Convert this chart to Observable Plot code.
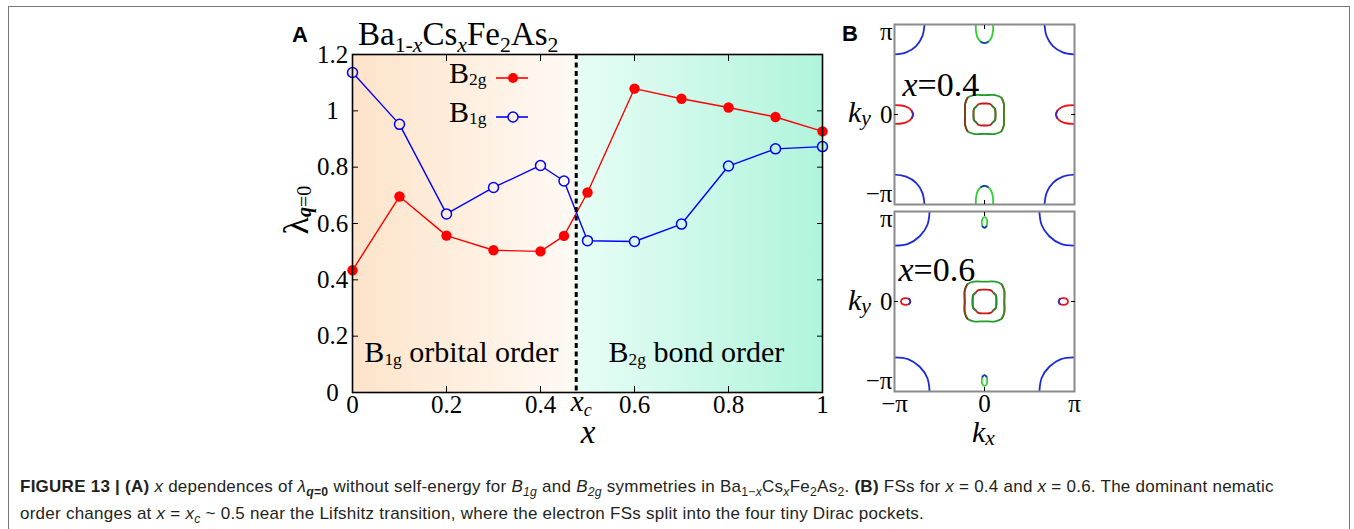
<!DOCTYPE html>
<html><head><meta charset="utf-8">
<script src="https://cdn.jsdelivr.net/npm/d3@7"></script>
<script src="https://cdn.jsdelivr.net/npm/@observablehq/plot@0.6"></script>
<style>
body{margin:0;background:#fff;}
#root{position:relative;width:1354px;height:529px;overflow:hidden;background:#fff;font-family:'Liberation Serif','Times New Roman',serif;color:#000;}
.abs{position:absolute;white-space:nowrap;line-height:1;}
.sub{font-size:0.62em;position:relative;top:0.3em;}
#border{position:absolute;left:8px;top:6px;width:1342px;height:600px;border:1.5px solid #777;box-sizing:border-box;}
#caption{position:absolute;left:20px;top:474px;font-family:'Liberation Sans',Arial,sans-serif;font-size:17px;letter-spacing:0.25px;line-height:26px;color:#231f20;white-space:nowrap;}
#caption .s{font-size:0.72em;position:relative;top:0.3em;}
</style>
</head><body>
<div id="root">
  <div id="border"></div>
  <div id="pa" class="abs" style="left:270px;top:0px"></div>
  <div id="pb1" class="abs" style="left:850px;top:0px"></div>
  <div id="pb2" class="abs" style="left:850px;top:207px"></div>

  <div class="abs" style="left:292px;top:24px;font:bold 22px 'Liberation Sans',Arial,sans-serif;line-height:1">A</div>
  <div class="abs" style="left:842px;top:23px;font:bold 22px 'Liberation Sans',Arial,sans-serif;line-height:1">B</div>
  <div class="abs" style="left:358px;top:18px;font-size:33px">Ba<span class="sub" style="font-size:0.66em">1-<i>x</i></span>Cs<span class="sub" style="font-size:0.66em"><i>x</i></span>Fe<span class="sub" style="font-size:0.66em">2</span>As<span class="sub" style="font-size:0.66em">2</span></div>

  <div class="abs" style="left:449px;top:58px;font-size:30px">B<span class="sub" style="font-size:0.58em;top:0.14em">2g</span></div>
  <div class="abs" style="left:449px;top:97px;font-size:30px">B<span class="sub" style="font-size:0.58em;top:0.14em">1g</span></div>
  <svg class="abs" style="left:494px;top:60px" width="40" height="70">
    <line x1="2" x2="34" y1="18" y2="18" stroke="#ff0000" stroke-width="1.6"></line>
    <circle cx="19" cy="18" r="5" fill="#ff0000"></circle>
    <line x1="2" x2="34" y1="57" y2="57" stroke="#0000ff" stroke-width="1.6"></line>
    <circle cx="19" cy="57" r="5" fill="#fdf0e3" stroke="#0000ff" stroke-width="1.5"></circle>
  </svg>

  <div class="abs" style="left:296px;top:210px;transform:translate(-50%,-50%) rotate(-90deg);font-size:36px">λ<span class="sub" style="font-size:20px;top:0.15em"><b><i>q</i></b>=0</span></div>
  <div class="abs" style="left:588px;top:416px;font-size:33px;font-style:italic;transform:translateX(-50%)">x</div>

  <div class="abs" style="left:848px;top:97px;font-size:30px"><i>k</i><span class="sub" style="font-size:0.72em;top:0.12em"><i>y</i></span></div>
  <div class="abs" style="left:848px;top:285px;font-size:30px"><i>k</i><span class="sub" style="font-size:0.72em;top:0.12em"><i>y</i></span></div>
  <div class="abs" style="left:972px;top:417px;font-size:30px"><i>k</i><span class="sub" style="font-size:0.72em;top:0.12em"><i>x</i></span></div>

  <div id="caption"><b>FIGURE 13 | (A)</b> <i>x</i> dependences of <i>λ</i><span class="s"><b><i>q</i>=0</b></span> without self-energy for <i>B</i><span class="s"><i>1g</i></span> and <i>B</i><span class="s"><i>2g</i></span> symmetries in Ba<span class="s">1−<i>x</i></span>Cs<span class="s"><i>x</i></span>Fe<span class="s">2</span>As<span class="s">2</span>. <b>(B)</b> FSs for <i>x</i> = 0.4 and <i>x</i> = 0.6. The dominant nematic<br>order changes at <i>x</i> = <i>x</i><span class="s"><i>c</i></span> ~ 0.5 near the Lifshitz transition, where the electron FSs split into the four tiny Dirac pockets.</div>
</div>

<script>
// ---------------- data (panel A) ----------------
const xs  = [0, 0.1, 0.2, 0.3, 0.4, 0.45, 0.5, 0.6, 0.7, 0.8, 0.9, 1];
const b2g = [0.434, 0.696, 0.557, 0.505, 0.501, 0.556, 0.710, 1.079, 1.043, 1.012, 0.978, 0.927];
const b1g = [1.136, 0.952, 0.634, 0.728, 0.806, 0.751, 0.539, 0.536, 0.598, 0.804, 0.865, 0.873];
const xc = 0.476;
const phaseNames = ["B_{1g} orbital order", "B_{2g} bond order"];
const phaseBounds = [0, xc, 1];
const xTicks = [0, 0.2, 0.4, 0.6, 0.8, 1];
const xTickLabels = ["0", "0.2", "0.4", "0.6", "0.8", "1"];
const yTicks = [0, 0.2, 0.4, 0.6, 0.8, 1, 1.2];
const yTickLabels = ["0", "0.2", "0.4", "0.6", "0.8", "1", "1.2"];

// ---------------- data (panel B): Fermi-surface outlines, units of π ----------------
const kTicks = [-1, 0, 1];
const kTickLabels = ["−π", "0", "π"];
const fsLabels = ["*x*=0.4", "*x*=0.6"];
// first-quadrant points (0°→90°) of the Γ pockets, offsets of the M-corner arcs,
// half-outlines of the X/Y pockets (edge → tip), quadrants of the small Dirac pockets
const fs04Outer  = [[0.215, 0], [0.215, 0.118], [0.187, 0.187], [0.118, 0.215], [0, 0.215]];
const fs04Inner  = [[0.122, 0], [0.117, 0.063], [0.09, 0.09], [0.063, 0.117], [0, 0.122]];
const fs04Corner = [[0.333, 0], [0.31, 0.13], [0.24, 0.24], [0.13, 0.31], [0, 0.333]];
const fs04Side   = [[0, 0.104], [0.08, 0.1], [0.15, 0.078], [0.192, 0.04], [0.205, 0]];
const fs04Cap    = [[0.096, 0], [0.094, 0.08], [0.075, 0.15], [0.038, 0.195], [0, 0.207]];
const fs06Outer  = [[0.22, 0], [0.22, 0.12], [0.191, 0.191], [0.12, 0.22], [0, 0.22]];
const fs06Inner  = [[0.132, 0], [0.127, 0.068], [0.098, 0.098], [0.068, 0.127], [0, 0.132]];
const fs06Corner = [[0.39, 0], [0.365, 0.15], [0.28, 0.275], [0.15, 0.36], [0, 0.38]];
const fs06SideCenter = 0.876;
const fs06SideQ  = [[0.052, 0], [0.038, 0.027], [0, 0.037]];
const fs06CapCenter = 0.878;
const fs06CapQ   = [[0.03, 0], [0.022, 0.043], [0, 0.059]];

// ---------------- helpers ----------------
const SERIF = "'Liberation Serif','Times New Roman',serif";
// markup: *italic*, _{subscript} (slightly lowered), __{subscript} (lowered more)
function parseRich(s) {
  const segs = []; let sub = 0, it = false, buf = "";
  const flush = () => { if (buf) { segs.push({t: buf, sub, it}); buf = ""; } };
  for (let i = 0; i < s.length; i++) {
    const c = s[i];
    if (c === "_" && s[i + 1] === "_" && s[i + 2] === "{") { flush(); sub = 2; i += 2; continue; }
    if (c === "_" && s[i + 1] === "{") { flush(); sub = 1; i++; continue; }
    if (c === "}" && sub) { flush(); sub = 0; continue; }
    if (c === "*") { flush(); it = !it; continue; }
    buf += c;
  }
  flush();
  return segs;
}
function richify(svg) {
  const ns = "http://www.w3.org/2000/svg";
  svg.querySelectorAll("text").forEach(el => {
    const s = el.textContent;
    if (!/[*]|_\{/.test(s)) return;
    const size = parseFloat(getComputedStyle(el).fontSize) || 25;
    el.textContent = "";
    let shift = 0;
    for (const g of parseRich(s)) {
      const t = document.createElementNS(ns, "tspan");
      t.textContent = g.t;
      if (g.it) t.setAttribute("font-style", "italic");
      if (g.sub) {
        const want = size * (g.sub === 2 ? 0.18 : 0.1);
        t.setAttribute("font-size", (size * (g.sub === 2 ? 0.62 : 0.58)).toFixed(1));
        t.setAttribute("dy", (want - shift).toFixed(1)); shift = want;
      } else if (shift) { t.setAttribute("dy", (-shift).toFixed(1)); shift = 0; }
      el.appendChild(t);
    }
  });
}

// ---------------- panel A ----------------
const rows = xs.map((x, i) => ({x, b2g: b2g[i], b1g: b1g[i]}));
const phases = phaseNames.map((name, i) => ({name, mid: (phaseBounds[i] + phaseBounds[i + 1]) / 2}));
const xFmt = d => xTickLabels[xTicks.indexOf(d)];
const yFmt = d => yTickLabels[yTicks.indexOf(d)];
const GRAD = "url(#gradA)";

const chartA = Plot.plot({
  width: 570, height: 445,
  marginLeft: 82, marginRight: 18, marginTop: 54, marginBottom: 53,
  x: {domain: [0, 1]},
  y: {domain: [0, 1.2]},
  style: {fontFamily: SERIF, fontSize: "25px", color: "#000", background: "transparent", overflow: "visible"},
  marks: [
    Plot.frame({fill: GRAD, stroke: null}),
    Plot.line(rows, {x: "x", y: "b2g", stroke: "#ff0000", strokeWidth: 1.4}),
    Plot.line(rows, {x: "x", y: "b1g", stroke: "#0000ff", strokeWidth: 1.4}),
    Plot.ruleX([xc], {stroke: "#000", strokeWidth: 3, strokeDasharray: "5,3.5"}),
    Plot.dot(rows, {x: "x", y: "b2g", r: 5.2, fill: "#ff0000", stroke: "none"}),
    Plot.dot(rows, {x: "x", y: "b1g", r: 5, fill: GRAD, stroke: "#0000ff", strokeWidth: 1.5}),
    Plot.frame({stroke: "#000", strokeWidth: 1.6}),
    Plot.axisX({ticks: xTicks, tickFormat: xFmt, tickSize: 0, tickPadding: 3, label: null}),
    Plot.axisY({ticks: yTicks, tickFormat: yFmt, tickSize: 0, tickPadding: 20, textAnchor: "middle", label: null}),
    Plot.axisY({ticks: yTicks, tickFormat: () => "", tickSize: 6, dx: 6, label: null}),
    Plot.axisY({anchor: "right", ticks: yTicks, tickFormat: () => "", tickSize: 6, dx: -6, label: null}),
    Plot.axisX({anchor: "top", ticks: xTicks, tickFormat: () => "", tickSize: 6, dy: 6, label: null}),
    Plot.axisX({anchor: "bottom", ticks: xTicks, tickFormat: () => "", tickSize: 6, dy: -6, label: null}),
    Plot.text([xc], {x: d => d, text: () => "*x*__{*c*}", frameAnchor: "bottom", lineAnchor: "top", dy: -2, dx: 5, fontSize: 29}),
    Plot.text(phases, {x: "mid", text: "name", frameAnchor: "bottom", lineAnchor: "middle", dy: -40, dx: -3, fontSize: 30})
  ]
});
document.getElementById("pa").appendChild(chartA);
{
  const sx = chartA.scale("x");
  const p0 = sx.apply(0), p1 = sx.apply(1);
  const ns = "http://www.w3.org/2000/svg";
  const defs = document.createElementNS(ns, "defs");
  defs.innerHTML = `<linearGradient id="gradA" gradientUnits="userSpaceOnUse" x1="${p0}" x2="${p1}" y1="0" y2="0">
    <stop offset="0" stop-color="#fde3c9"/>
    <stop offset="${xc}" stop-color="#fffaf5"/>
    <stop offset="${xc}" stop-color="#e7fdf5"/>
    <stop offset="1" stop-color="#b0f4dc"/>
  </linearGradient>`;
  chartA.insertBefore(defs, chartA.firstChild);
  richify(chartA);
}

// ---------------- panel B ----------------
const COL = {corner: "#1d2bd6", side: "#e8161c", sideTip: "#4b22b4", cap: "#2fd12f", capTip: "#2233c8",
             outer: "#249a2c", outerL: "#8a3412", outerR: "#4f7c20", inner: "#c2191a", innerLR: "#1f8f29"};

function loop(q, cx = 0, cy = 0) {
  const n = q.length, pts = [];
  for (let i = 0; i < n; i++) pts.push([q[i][0], q[i][1]]);
  for (let i = n - 2; i >= 0; i--) pts.push([-q[i][0], q[i][1]]);
  for (let i = 1; i < n; i++) pts.push([-q[i][0], -q[i][1]]);
  for (let i = n - 2; i >= 1; i--) pts.push([q[i][0], -q[i][1]]);
  return pts.map(([x, y]) => [cx + x, cy + y]);
}
function seg(pts, start, count) {
  const out = [];
  for (let i = 0; i < count; i++) out.push(pts[(start + i) % pts.length]);
  return out;
}
function buildShapes(fs) {
  const S = [];
  const outer = loop(fs.outer), inner = loop(fs.inner);
  S.push({pts: outer, closed: true, color: COL.outer});
  S.push({pts: seg(outer, 6, 5), color: COL.outerL});
  S.push({pts: seg(outer, 14, 5), color: COL.outerR});
  S.push({pts: inner, closed: true, color: COL.inner});
  S.push({pts: seg(inner, 6, 5), color: COL.innerLR});
  S.push({pts: seg(inner, 14, 5), color: COL.innerLR});
  for (const sx of [-1, 1]) for (const sy of [-1, 1])
    S.push({pts: fs.corner.map(([dx, dy]) => [sx * (1 - dx), sy * (1 - dy)]), color: COL.corner});
  if (fs.side) {
    for (const s of [-1, 1]) {
      const h = fs.side, n = h.length;
      S.push({pts: [...h.map(([d, w]) => [s * (1 - d), w]), ...h.slice(0, -1).reverse().map(([d, w]) => [s * (1 - d), -w])], color: COL.side});
      S.push({pts: [[s * (1 - h[n - 2][0]), h[n - 2][1]], [s * (1 - h[n - 1][0]), 0], [s * (1 - h[n - 2][0]), -h[n - 2][1]]], color: COL.sideTip});
      const c = fs.cap, m = c.length;
      S.push({pts: [...c.map(([w, d]) => [-w, s * (1 - d)]), ...c.slice(0, -1).reverse().map(([w, d]) => [w, s * (1 - d)])], color: COL.cap});
      S.push({pts: [[-c[m - 2][0], s * (1 - c[m - 2][1])], [0, s * (1 - c[m - 1][1])], [c[m - 2][0], s * (1 - c[m - 2][1])]], color: COL.capTip});
    }
  }
  if (fs.sideQ) {
    for (const s of [-1, 1]) {
      const L = loop(fs.sideQ, s * fs.sideC, 0);
      S.push({pts: L, closed: true, color: COL.side});
      S.push({pts: s < 0 ? seg(L, 7, 3) : seg(L, 3, 3), color: COL.capTip});
      const C = loop(fs.capQ, 0, s * fs.capC);
      S.push({pts: C, closed: true, color: COL.cap});
      S.push({pts: s > 0 ? seg(C, 5, 3) : seg(C, 1, 3), color: COL.capTip});
    }
  }
  return S;
}

function fsPanel(fs, o) {
  const kLabelDy = [-11, 0, 7];
  const marks = buildShapes(fs).map(s => Plot.line(s.pts, {
    x: d => d[0], y: d => d[1], curve: s.closed ? "catmull-rom-closed" : "catmull-rom",
    stroke: s.color, strokeWidth: 1.8, clip: true
  }));
  marks.push(Plot.frame({stroke: "#8a8a8a", strokeWidth: 2}));
  kTicks.forEach((t, i) => marks.push(Plot.axisY([t], {tickFormat: () => kTickLabels[i], tickSize: 0, tickPadding: 2, dy: kLabelDy[i], label: null})));
  marks.push(Plot.axisY({ticks: [0], tickFormat: () => "", tickSize: 4, dx: 4, label: null}));
  marks.push(Plot.axisY({anchor: "right", ticks: [0], tickFormat: () => "", tickSize: 4, dx: -4, label: null}));
  marks.push(Plot.axisX({anchor: "top", ticks: [0], tickFormat: () => "", tickSize: 4, dy: 4, label: null}));
  marks.push(Plot.axisX({anchor: "bottom", ticks: [0], tickFormat: () => "", tickSize: 4, dy: -4, label: null}));
  if (o.showX) marks.push(Plot.axisX({ticks: kTicks, tickFormat: d => kTickLabels[kTicks.indexOf(d)], tickSize: 0, tickPadding: 3, label: null}));
  marks.push(Plot.text([o.label], {text: d => d, frameAnchor: "top-left", textAnchor: "start", dx: o.ldx, dy: o.ldy, fontSize: 34}));
  return Plot.plot({
    width: 240, height: o.height, marginLeft: 44, marginRight: 16, marginTop: o.mt, marginBottom: o.mb,
    x: {domain: [-1, 1]}, y: {domain: [-1, 1]},
    style: {fontFamily: SERIF, fontSize: "25px", color: "#000", background: "transparent", overflow: "visible"},
    marks
  });
}

const pb1 = fsPanel({outer: fs04Outer, inner: fs04Inner, corner: fs04Corner, side: fs04Side, cap: fs04Cap},
  {height: 207, mt: 24, mb: 3, showX: false, label: fsLabels[0], ldx: 8, ldy: 47});
const pb2 = fsPanel({outer: fs06Outer, inner: fs06Inner, corner: fs06Corner, sideQ: fs06SideQ, sideC: fs06SideCenter, capQ: fs06CapQ, capC: fs06CapCenter},
  {height: 243, mt: 4, mb: 59, showX: true, label: fsLabels[1], ldx: 4, ldy: 45});
document.getElementById("pb1").appendChild(pb1);
document.getElementById("pb2").appendChild(pb2);
richify(pb1); richify(pb2);
</script>
</body></html>
